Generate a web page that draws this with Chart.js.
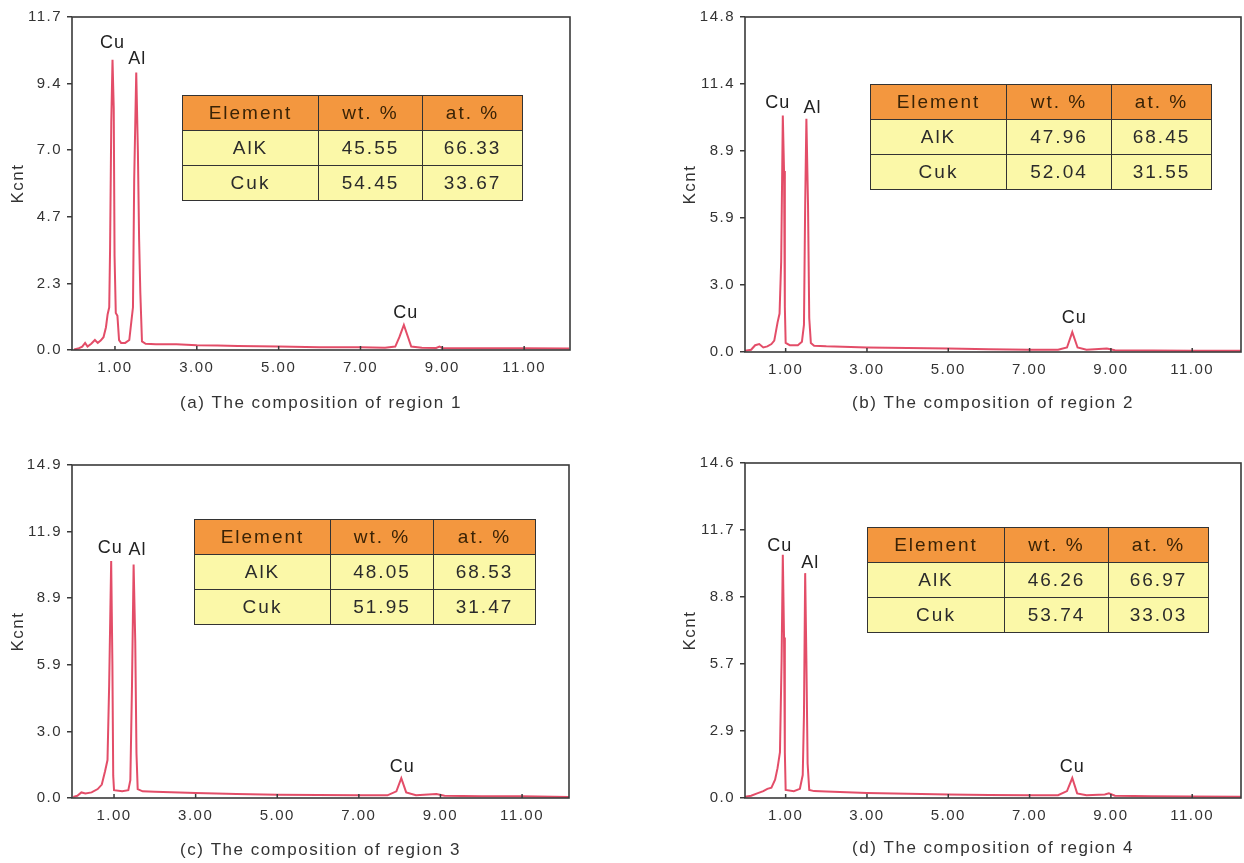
<!DOCTYPE html>
<html>
<head>
<meta charset="utf-8">
<script src="https://cdn.jsdelivr.net/npm/chart.js@4.4.1/dist/chart.umd.min.js"></script>
<style>
html,body{margin:0;padding:0;background:#fff;}
#page{position:relative;width:1244px;height:863px;overflow:hidden;background:#fff;font-family:"Liberation Sans",Arial,sans-serif;}
#page canvas{position:absolute;}
.comp{position:absolute;border-collapse:collapse;table-layout:fixed;font-size:19px;letter-spacing:2px;color:#2b2b2b;}
.comp td{border:1.5px solid #333;text-align:center;padding:0;white-space:nowrap;}
.comp tr.head td{background:#f3973f;color:#3a2306;}
.comp tr.row td{background:#fbf8a8;}
</style>
</head>
<body>
<div id="page"></div>
<script>
// ---------------- data ----------------
const energyA = [0.00,0.10,0.20,0.27,0.33,0.42,0.51,0.58,0.65,0.72,0.78,0.82,0.86,0.88,0.91,0.94,0.97,0.99,1.02,1.06,1.10,1.15,1.25,1.35,1.40,1.44,1.47,1.52,1.56,1.59,1.62,1.66,1.75,2.00,2.50,3.00,3.50,4.00,5.00,6.00,7.00,7.60,7.85,7.95,8.06,8.15,8.24,8.50,8.85,8.93,9.00,10.00,11.00,12.10];
const countsA = [0.02,0.05,0.12,0.25,0.12,0.22,0.35,0.25,0.33,0.45,0.80,1.25,1.50,3.50,8.00,10.20,8.50,3.30,1.30,1.20,0.35,0.25,0.25,0.35,1.00,1.50,6.00,9.75,7.00,3.90,2.00,0.30,0.22,0.20,0.20,0.17,0.16,0.14,0.12,0.10,0.10,0.08,0.12,0.45,0.88,0.50,0.12,0.08,0.07,0.12,0.07,0.06,0.06,0.05];

const energyB = [0.00,0.15,0.25,0.35,0.45,0.55,0.65,0.72,0.80,0.85,0.89,0.93,0.96,0.98,1.00,1.10,1.30,1.40,1.45,1.48,1.51,1.55,1.58,1.62,1.70,2.00,3.00,4.00,5.00,6.00,7.00,7.70,7.92,8.05,8.18,8.40,8.90,9.10,10.00,11.00,12.20];
const countsB = [0.05,0.10,0.30,0.35,0.20,0.25,0.35,0.50,1.30,1.70,4.00,10.45,8.00,2.00,0.40,0.30,0.30,0.45,1.20,6.50,10.30,6.50,1.50,0.40,0.28,0.25,0.20,0.18,0.15,0.12,0.10,0.10,0.20,0.88,0.20,0.10,0.15,0.08,0.07,0.06,0.05];

const energyC = [0.00,0.10,0.20,0.30,0.45,0.60,0.70,0.78,0.84,0.88,0.93,0.96,0.98,1.00,1.20,1.35,1.40,1.44,1.48,1.52,1.55,1.58,1.70,2.00,3.00,4.00,5.00,6.00,7.00,7.70,7.92,8.04,8.16,8.40,8.90,9.10,10.00,11.00,12.15];
const countsC = [0.05,0.10,0.25,0.20,0.25,0.40,0.60,1.20,1.70,5.00,10.60,6.00,1.00,0.35,0.30,0.35,0.80,5.00,10.45,7.00,2.00,0.40,0.30,0.28,0.22,0.18,0.15,0.13,0.12,0.12,0.30,0.89,0.25,0.12,0.18,0.10,0.08,0.08,0.05];

const energyD = [0.00,0.15,0.30,0.45,0.55,0.65,0.74,0.80,0.86,0.90,0.93,0.96,0.98,1.00,1.20,1.35,1.42,1.45,1.48,1.51,1.54,1.58,1.70,2.00,3.00,4.00,5.00,6.00,7.00,7.70,7.92,8.05,8.17,8.40,8.85,8.95,9.10,10.00,11.00,12.20];
const countsD = [0.05,0.10,0.20,0.30,0.40,0.45,0.80,1.30,2.00,6.00,10.60,7.00,2.00,0.35,0.30,0.40,1.00,3.60,9.80,6.00,1.50,0.35,0.30,0.28,0.22,0.18,0.15,0.13,0.12,0.12,0.30,0.87,0.20,0.12,0.15,0.20,0.10,0.08,0.07,0.05];

const xTickValues = [1, 3, 5, 7, 9, 11];
const xTickLabels = ["1.00", "3.00", "5.00", "7.00", "9.00", "11.00"];

const yMaxA = 11.7, yMaxB = 14.8, yMaxC = 14.9, yMaxD = 14.6;
const yTicksA = ["0.0", "2.3", "4.7", "7.0", "9.4", "11.7"];
const yTicksB = ["0.0", "3.0", "5.9", "8.9", "11.4", "14.8"];
const yTicksC = ["0.0", "3.0", "5.9", "8.9", "11.9", "14.9"];
const yTicksD = ["0.0", "2.9", "5.7", "8.8", "11.7", "14.6"];

const yTitle = "Kcnt";
const captionA = "(a) The composition of region 1";
const captionB = "(b) The composition of region 2";
const captionC = "(c) The composition of region 3";
const captionD = "(d) The composition of region 4";

const peakNames = ["Cu", "Al", "Cu"];
const peakEnergyA = [0.94, 1.52, 8.06];
const peakEnergyB = [0.93, 1.51, 8.05];
const peakEnergyC = [0.93, 1.48, 8.04];
const peakEnergyD = [0.93, 1.48, 8.05];

const tableHeader = ["Element", "wt. %", "at. %"];
const tableElements = ["AlK", "Cuk"];
const wtA = ["45.55", "54.45"], atA = ["66.33", "33.67"];
const wtB = ["47.96", "52.04"], atB = ["68.45", "31.55"];
const wtC = ["48.05", "51.95"], atC = ["68.53", "31.47"];
const wtD = ["46.26", "53.74"], atD = ["66.97", "33.03"];

// ---------------- layout / style ----------------
Chart.defaults.font.family = '"Liberation Sans", Arial, sans-serif';
Chart.defaults.color = '#333';

const page = document.getElementById('page');

const framePlugin = {
  id: 'frame',
  beforeDraw(chart) {
    chart.ctx.letterSpacing = '1.5px';
  },
  afterDraw(chart, args, opts) {
    const {ctx, chartArea: a, scales: {x, y}} = chart;
    ctx.save();
    ctx.strokeStyle = '#3a3a3a';
    ctx.lineWidth = 1.6;
    ctx.strokeRect(a.left, a.top, a.right - a.left, a.bottom - a.top);
    ctx.lineWidth = 1.5;
    x.ticks.forEach(t => {
      const px = x.getPixelForValue(t.value);
      ctx.beginPath();
      ctx.moveTo(px, a.bottom);
      ctx.lineTo(px, a.bottom - 4);
      ctx.stroke();
    });
    // peak labels
    const pts = chart.data.datasets[0].data;
    ctx.fillStyle = '#222';
    ctx.font = '18px "Liberation Sans", Arial, sans-serif';
    ctx.textAlign = 'center';
    ctx.textBaseline = 'middle';
    ctx.letterSpacing = '1px';
    opts.names.forEach((name, i) => {
      const e = opts.energies[i];
      const p = pts.reduce((b, q) => Math.abs(q.x - e) < Math.abs(b.x - e) ? q : b);
      const [dx, dy] = opts.offsets[i];
      ctx.fillText(name, x.getPixelForValue(p.x) + dx, y.getPixelForValue(p.y) + dy);
    });
    ctx.restore();
  }
};

function makePanel(c) {
  const canvas = document.createElement('canvas');
  canvas.width = c.w; canvas.height = c.h;
  canvas.style.left = c.left + 'px';
  canvas.style.top = c.top + 'px';
  canvas.style.width = c.w + 'px';
  canvas.style.height = c.h + 'px';
  page.appendChild(canvas);
  new Chart(canvas, {
    type: 'line',
    data: {
      datasets: [{
        data: c.energy.map((e, i) => ({x: e, y: c.counts[i]})),
        borderColor: 'rgba(224,58,88,0.9)',
        borderWidth: 2,
        pointRadius: 0,
        tension: 0,
        fill: false
      }]
    },
    options: {
      responsive: false,
      animation: false,
      devicePixelRatio: 1,
      layout: {padding: {left: 0, top: c.padTop, right: c.padRight, bottom: 0}},
      plugins: {
        legend: {display: false},
        tooltip: {enabled: false},
        frame: {names: peakNames, energies: c.peaks, offsets: c.offsets}
      },
      scales: {
        x: {
          type: 'linear', min: c.xMin, max: c.xMax,
          afterBuildTicks: s => { s.ticks = xTickValues.map(v => ({value: v})); },
          afterFit: s => { s.height = c.xH; },
          ticks: {callback: (v, i) => xTickLabels[i], font: {size: 15}, color: '#333', padding: 9, maxRotation: 0, autoSkip: false},
          grid: {drawOnChartArea: false, drawTicks: false},
          border: {display: false},
          title: {display: true, text: c.caption, font: {size: 17}, color: '#333', padding: {top: 0, bottom: c.capPad}}
        },
        y: {
          min: 0, max: c.yMax,
          afterBuildTicks: s => { s.ticks = [0, 1, 2, 3, 4, 5].map(i => ({value: c.yMax * i / 5})); },
          afterFit: s => { s.width = c.yW; },
          ticks: {callback: (v, i) => c.yLabels[i], font: {size: 15}, color: '#333', padding: 5, autoSkip: false},
          grid: {drawOnChartArea: false, drawTicks: true, tickLength: 5, color: '#3a3a3a', lineWidth: 1.5},
          border: {display: false},
          title: {display: true, text: yTitle, font: {size: 17}, color: '#333', padding: {top: c.titlePad, bottom: 0}}
        }
      }
    },
    plugins: [framePlugin]
  });

  // composition table
  const t = document.createElement('table');
  t.className = 'comp';
  t.style.left = c.table.left + 'px';
  t.style.top = c.table.top + 'px';
  t.style.width = c.table.cols.reduce((s, v) => s + v, 0) + 'px';
  const cg = document.createElement('colgroup');
  c.table.cols.forEach(w => { const col = document.createElement('col'); col.style.width = w + 'px'; cg.appendChild(col); });
  t.appendChild(cg);
  const rows = [tableHeader].concat(tableElements.map((el, i) => [el, c.wt[i], c.at[i]]));
  rows.forEach((r, ri) => {
    const tr = document.createElement('tr');
    tr.className = ri === 0 ? 'head' : 'row';
    tr.style.height = c.table.rowH + 'px';
    r.forEach(txt => { const td = document.createElement('td'); td.textContent = txt; tr.appendChild(td); });
    t.appendChild(tr);
  });
  page.appendChild(t);
}

makePanel({left: 0, top: 0, w: 600, h: 425, padTop: 17, padRight: 30, yW: 72, xH: 75, titlePad: 8, capPad: 11,
  xMin: -0.05, xMax: 12.12, yMax: yMaxA, yLabels: yTicksA, energy: energyA, counts: countsA, caption: captionA,
  peaks: peakEnergyA, offsets: [[0, -17], [1, -13], [2, -12]], wt: wtA, at: atA,
  table: {left: 182, top: 95, cols: [136, 104, 100], rowH: 35}});

makePanel({left: 620, top: 0, w: 624, h: 425, padTop: 17, padRight: 3, yW: 125, xH: 73, titlePad: 60, capPad: 11,
  xMin: 0, xMax: 12.2, yMax: yMaxB, yLabels: yTicksB, energy: energyB, counts: countsB, caption: captionB,
  peaks: peakEnergyB, offsets: [[-5, -12], [6, -11], [2, -14]], wt: wtB, at: atB,
  table: {left: 870, top: 84, cols: [136, 105, 100], rowH: 35}});

makePanel({left: 0, top: 440, w: 600, h: 423, padTop: 25, padRight: 31, yW: 72, xH: 65, titlePad: 8, capPad: 2,
  xMin: -0.03, xMax: 12.15, yMax: yMaxC, yLabels: yTicksC, energy: energyC, counts: countsC, caption: captionC,
  peaks: peakEnergyC, offsets: [[-1, -13], [4, -14], [1, -11]], wt: wtC, at: atC,
  table: {left: 194, top: 519, cols: [136, 103, 102], rowH: 35}});

makePanel({left: 620, top: 440, w: 624, h: 423, padTop: 23, padRight: 3, yW: 125, xH: 65, titlePad: 60, capPad: 4,
  xMin: 0, xMax: 12.2, yMax: yMaxD, yLabels: yTicksD, energy: energyD, counts: countsD, caption: captionD,
  peaks: peakEnergyD, offsets: [[-3, -9], [5, -10], [0, -11]], wt: wtD, at: atD,
  table: {left: 867, top: 527, cols: [137, 104, 100], rowH: 35}});
</script>
</body>
</html>
